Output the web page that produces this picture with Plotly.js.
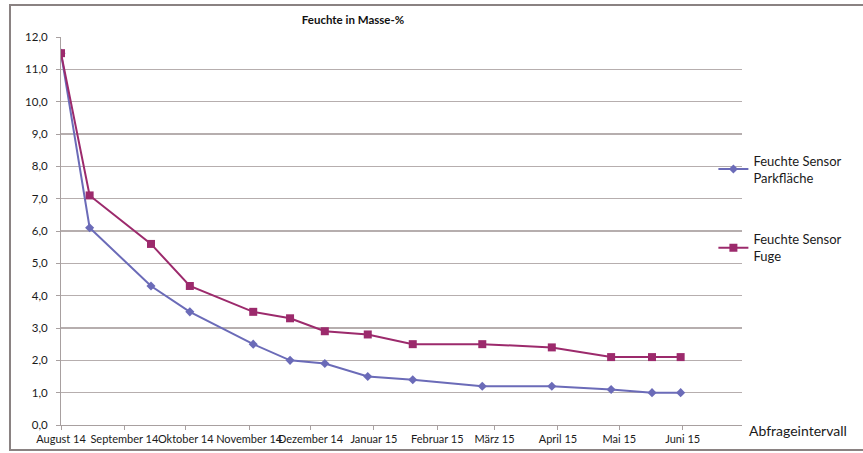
<!DOCTYPE html>
<html>
<head>
<meta charset="utf-8">
<script src="https://cdn.plot.ly/plotly-3.0.1.min.js"></script>
<style>
  html, body { margin: 0; padding: 0; background: #ffffff; }
  #chart { width: 863px; height: 453px; }
</style>
</head>
<body>
<div id="chart"></div>
<script>
// Measurement dates
const dates = ['2014-08-01', '2014-08-15', '2014-09-14', '2014-10-03', '2014-11-03',
               '2014-11-21', '2014-12-08', '2014-12-29', '2015-01-20', '2015-02-23',
               '2015-03-29', '2015-04-27', '2015-05-17', '2015-05-31'];
// Series
const parkflaeche = [11.5, 6.1, 4.3, 3.5, 2.5, 2.0, 1.9, 1.5, 1.4, 1.2, 1.2, 1.1, 1.0, 1.0];
const fuge        = [11.5, 7.1, 5.6, 4.3, 3.5, 3.3, 2.9, 2.8, 2.5, 2.5, 2.4, 2.1, 2.1, 2.1];
// Tick labels
const tickDates  = ['2014-08-01', '2014-09-01', '2014-10-01', '2014-11-01', '2014-12-01',
                    '2015-01-01', '2015-02-01', '2015-03-01', '2015-04-01', '2015-05-01', '2015-06-01'];
const tickLabels = ['August 14', 'September 14', 'Oktober 14', 'November 14', 'Dezember 14',
                    'Januar 15', 'Februar 15', 'März 15', 'April 15', 'Mai 15', 'Juni 15'];
const seriesNames = ['Feuchte Sensor<br>Parkfläche', 'Feuchte Sensor<br>Fuge'];

const FONT = 'Lato, "Open Sans", sans-serif';

const traces = [
  {
    x: dates, y: parkflaeche, type: 'scatter', mode: 'lines+markers',
    name: seriesNames[0],
    line: { color: '#6b6bb8', width: 2 },
    marker: { symbol: 'diamond', size: 7, color: '#6b6bb8' },
    showlegend: true,
    legend: 'legend'
  },
  {
    x: dates, y: fuge, type: 'scatter', mode: 'lines+markers',
    name: seriesNames[1],
    line: { color: '#9c2a6c', width: 2 },
    marker: { symbol: 'square', size: 8, color: '#9c2a6c' },
    showlegend: true,
    legend: 'legend2'
  }
];

const layout = {
  width: 863, height: 453,
  margin: { l: 61, r: 121, t: 37, b: 28 },
  paper_bgcolor: '#ffffff',
  plot_bgcolor: '#ffffff',
  separators: ',.',
  showlegend: true,
  font: { family: FONT, size: 11, color: '#1a1a1a' },
  title: {
    text: '<b>Feuchte in Masse-%</b>',
    font: { family: FONT, size: 11.5, color: '#111111' },
    x: 353 / 863, xref: 'container', xanchor: 'center',
    y: 0.955, yref: 'container', yanchor: 'middle'
  },
  xaxis: {
    type: 'date',
    range: ['2014-08-01', '2015-06-30'],
    tickmode: 'array',
    tickvals: tickDates,
    ticktext: tickLabels,
    showgrid: false,
    ticks: 'outside', ticklen: 4, tickcolor: '#a8a0a0',
    showline: true, linecolor: '#a8a0a0', linewidth: 1,
    tickfont: { family: FONT, size: 11, color: '#1a1a1a' },
    tickangle: 0,
    zeroline: false,
    fixedrange: true
  },
  yaxis: {
    range: [0, 12],
    dtick: 1,
    tick0: 0,
    tickformat: '.1f',
    showgrid: true, gridcolor: '#b6aeae', gridwidth: 1.6,
    ticks: 'outside', ticklen: 4, tickcolor: '#a8a0a0',
    ticklabelstandoff: 6,
    showline: true, linecolor: '#a8a0a0', linewidth: 1,
    tickfont: { family: FONT, size: 11.5, color: '#1a1a1a' },
    zeroline: false,
    fixedrange: true
  },
  legend: {
    x: 0.958, xanchor: 'left', y: 0.72, yanchor: 'top',
    bgcolor: 'rgba(0,0,0,0)',
    font: { family: FONT, size: 13, color: '#1a1a1a' },
    itemclick: false, itemdoubleclick: false
  },
  legend2: {
    x: 0.958, xanchor: 'left', y: 0.517, yanchor: 'top',
    bgcolor: 'rgba(0,0,0,0)',
    font: { family: FONT, size: 13, color: '#1a1a1a' },
    itemclick: false, itemdoubleclick: false
  },
  annotations: [
    {
      text: 'Abfrageintervall', xref: 'paper', yref: 'paper',
      x: 1.008, xanchor: 'left', y: -0.015, yanchor: 'middle',
      showarrow: false,
      font: { family: FONT, size: 14, color: '#1a1a1a' }
    }
  ],
  shapes: [
    {
      type: 'rect', xref: 'paper', yref: 'paper',
      x0: -0.0749, x1: 1.19, y0: -0.0644, y1: 1.0825,
      line: { color: '#8a8282', width: 2 },
      fillcolor: 'rgba(0,0,0,0)', layer: 'below'
    }
  ]
};

Plotly.newPlot('chart', traces, layout, { displayModeBar: false, staticPlot: true });
</script>
</body>
</html>
